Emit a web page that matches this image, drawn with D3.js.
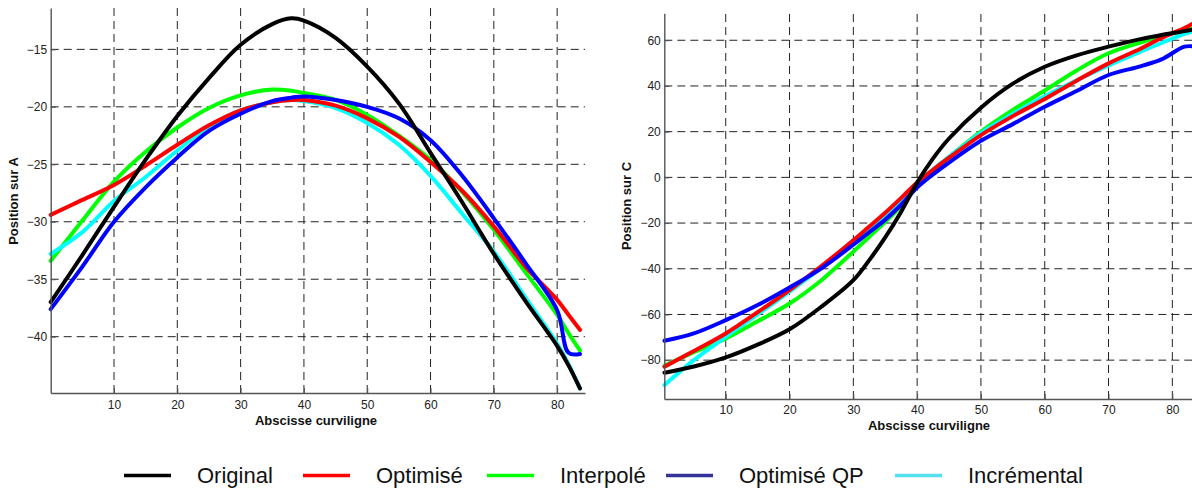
<!DOCTYPE html>
<html>
<head>
<meta charset="utf-8">
<script src="https://cdn.jsdelivr.net/npm/d3@7"></script>
<style>
  html, body { margin: 0; padding: 0; background: #fff; }
  svg { display: block; font-family: "Liberation Sans", Arial, sans-serif; }
</style>
</head>
<body>
<svg id="chart" width="1192" height="491"></svg>
<script>
// ---------- DATA ----------
const seriesNames = ["Original", "Optimisé", "Interpolé", "Optimisé QP", "Incrémental"];

// Left panel (Position sur A)
const xA = [0, 5, 10, 15, 20, 25, 30, 35, 38, 40, 45, 50, 55, 60, 65, 70, 75, 80, 81.8, 83.6];
const originalA    = [-37.0, -32.9, -28.7, -24.6, -20.8, -17.5, -14.6, -12.8, -12.3, -12.5, -14.0, -16.5, -19.7, -24.0, -28.3, -32.8, -36.9, -40.8, -42.5, -44.5];
const optimiseA    = [-29.4, -28.1, -26.8, -25.1, -23.3, -21.6, -20.3, -19.6, -19.4, -19.4, -19.9, -21.0, -22.6, -24.8, -27.3, -30.4, -33.9, -36.8, -38.1, -39.4];
const interpoleA   = [-33.4, -29.9, -26.5, -23.9, -21.8, -20.1, -19.0, -18.5, -18.6, -18.8, -19.4, -20.7, -22.5, -24.6, -27.4, -30.7, -34.4, -38.1, -39.7, -41.2];
const optimiseQPA  = [-37.6, -33.9, -30.0, -27.0, -24.4, -22.1, -20.6, -19.5, -19.2, -19.1, -19.4, -20.0, -21.0, -22.9, -26.0, -29.7, -33.6, -37.7, -41.4, -41.5];
const incrementalA = [-32.8, -30.9, -28.2, -26.1, -23.8, -21.7, -20.3, -19.6, -19.4, -19.5, -20.1, -21.4, -23.3, -26.0, -29.3, -32.6, -36.6, -40.6, -42.4, -44.5];

// Right panel (Position sur C)
const xC = [0.4, 5, 10, 15, 20, 25, 30, 32.5, 35, 37.5, 40, 42.5, 45, 50, 55, 60, 65, 70, 75, 78.3, 81.9, 83.6];
const originalC    = [-85.5, -82.8, -78.8, -73.2, -66.5, -56.6, -45.0, -36.2, -26.3, -15.0, -2.3, 8.3, 17.0, 30.5, 41.0, 48.4, 53.4, 57.2, 60.5, 62.3, 64.0, 64.9];
const optimiseC    = [-82.9, -76.0, -68.3, -59.0, -49.3, -38.8, -27.5, -21.5, -15.5, -9.0, -2.2, 3.3, 8.6, 18.5, 26.8, 34.3, 42.3, 49.9, 56.3, 61.0, 65.3, 68.0];
const interpoleC   = [-82.5, -76.5, -70.5, -63.0, -55.2, -45.0, -32.5, -26.0, -19.5, -12.5, -4.0, 2.5, 8.8, 20.0, 29.5, 38.0, 46.8, 54.3, 59.0, 61.8, 64.3, 65.4];
const optimiseQPC  = [-71.5, -68.3, -62.5, -55.9, -48.2, -39.8, -29.5, -24.0, -18.5, -12.0, -4.5, 1.3, 6.5, 16.0, 23.3, 30.9, 37.8, 44.8, 48.6, 51.6, 57.2, 57.2];
const incrementalC = [-90.9, -80.0, -69.8, -60.0, -50.0, -39.5, -28.3, -22.5, -16.5, -10.0, -2.5, 3.5, 9.0, 19.5, 27.8, 35.5, 42.5, 49.0, 55.0, 58.8, 62.8, 64.2];

// Ticks
const xTicks  = [10, 20, 30, 40, 50, 60, 70, 80];
const yTicksA = [-40, -35, -30, -25, -20, -15];
const yTicksC = [-80, -60, -40, -20, 0, 20, 40, 60];

// ---------- STYLE ----------
const plotColors   = ["#000000", "#ff0000", "#00ff00", "#0000ff", "#00ffff"];
const legendColors = ["#000000", "#ff0000", "#00ff00", "#333399", "#55e0f0"];
const drawOrder = [2, 4, 1, 3, 0];
const legendX = [124, 303, 487, 666, 895];

const svg = d3.select("#chart");

function panel(cfg) {
  const x = d3.scaleLinear().domain(cfg.xDomain).range(cfg.xRange);
  const y = d3.scaleLinear().domain(cfg.yDomain).range(cfg.yRange);
  const g = svg.append("g");
  const top = cfg.yRange[1], bottom = cfg.yRange[0];
  const left = cfg.xRange[0], right = cfg.xRange[1];

  // grid
  g.append("g").selectAll("line").data(xTicks).join("line")
    .attr("x1", d => x(d)).attr("x2", d => x(d))
    .attr("y1", bottom).attr("y2", top)
    .attr("stroke", "#222").attr("stroke-width", 1).attr("stroke-dasharray", "8,5");
  g.append("g").selectAll("line").data(cfg.yTicks).join("line")
    .attr("x1", left).attr("x2", right)
    .attr("y1", d => y(d)).attr("y2", d => y(d))
    .attr("stroke", "#222").attr("stroke-width", 1).attr("stroke-dasharray", "8,5");

  // curves
  const line = d3.line().curve(d3.curveCatmullRom.alpha(0.5))
    .x(d => x(d[0])).y(d => y(d[1]));
  drawOrder.forEach(i => {
    const vals = cfg.series[i];
    g.append("path")
      .datum(cfg.xs.map((xv, k) => [xv, vals[k]]))
      .attr("d", line)
      .attr("fill", "none")
      .attr("stroke", plotColors[i])
      .attr("stroke-width", 4)
      .attr("stroke-linejoin", "round")
      .attr("stroke-linecap", "round");
  });

  // axes
  const ax = g.append("g").attr("transform", `translate(0,${bottom})`)
    .call(d3.axisBottom(x).tickValues(xTicks).tickSizeInner(-5).tickSizeOuter(0).tickPadding(cfg.xPad));
  const ay = g.append("g").attr("transform", `translate(${left},0)`)
    .call(d3.axisLeft(y).tickValues(cfg.yTicks).tickSizeInner(-5).tickSizeOuter(0).tickPadding(3.5));
  [ax, ay].forEach(a => {
    a.select(".domain").attr("stroke", "#555").attr("stroke-width", 1.4);
    a.selectAll(".tick line").attr("stroke", "#555");
    a.selectAll(".tick text").attr("fill", "#222")
      .style("font-size", "12px").style("font-family", '"Liberation Sans", Arial, sans-serif');
  });

  // titles
  g.append("text").attr("x", cfg.xTitle[0]).attr("y", cfg.xTitle[1])
    .attr("text-anchor", "middle").attr("font-weight", "bold").attr("font-size", 13)
    .attr("fill", "#111").text("Abscisse curviligne");
  g.append("text")
    .attr("transform", `translate(${cfg.yTitle[0]},${cfg.yTitle[1]}) rotate(-90)`)
    .attr("text-anchor", "middle").attr("font-weight", "bold").attr("font-size", 13)
    .attr("fill", "#111").text(cfg.yLabel);
}

panel({
  xs: xA,
  series: [originalA, optimiseA, interpoleA, optimiseQPA, incrementalA],
  xDomain: [0, 84.4], xRange: [50.7, 585],
  yDomain: [-44.9, -11.4], yRange: [393, 8],
  yTicks: yTicksA, xPad: 7,
  xTitle: [316, 425], yTitle: [18, 201], yLabel: "Position sur A"
});

panel({
  xs: xC,
  series: [originalC, optimiseC, interpoleC, optimiseQPC, incrementalC],
  xDomain: [0.37, 84.4], xRange: [664.3, 1200.4],
  yDomain: [-97, 71.8], yRange: [399, 13.3],
  yTicks: yTicksC, xPad: 6.5,
  xTitle: [929, 430], yTitle: [631, 206], yLabel: "Position sur C"
});

// legend
const lg = svg.append("g");
seriesNames.forEach((name, i) => {
  lg.append("line")
    .attr("x1", legendX[i]).attr("x2", legendX[i] + 47)
    .attr("y1", 475.5).attr("y2", 475.5)
    .attr("stroke", legendColors[i]).attr("stroke-width", 3.5);
  lg.append("text")
    .attr("x", legendX[i] + 73).attr("y", 483)
    .attr("font-size", 22).attr("fill", "#111").text(name);
});
</script>
</body>
</html>
